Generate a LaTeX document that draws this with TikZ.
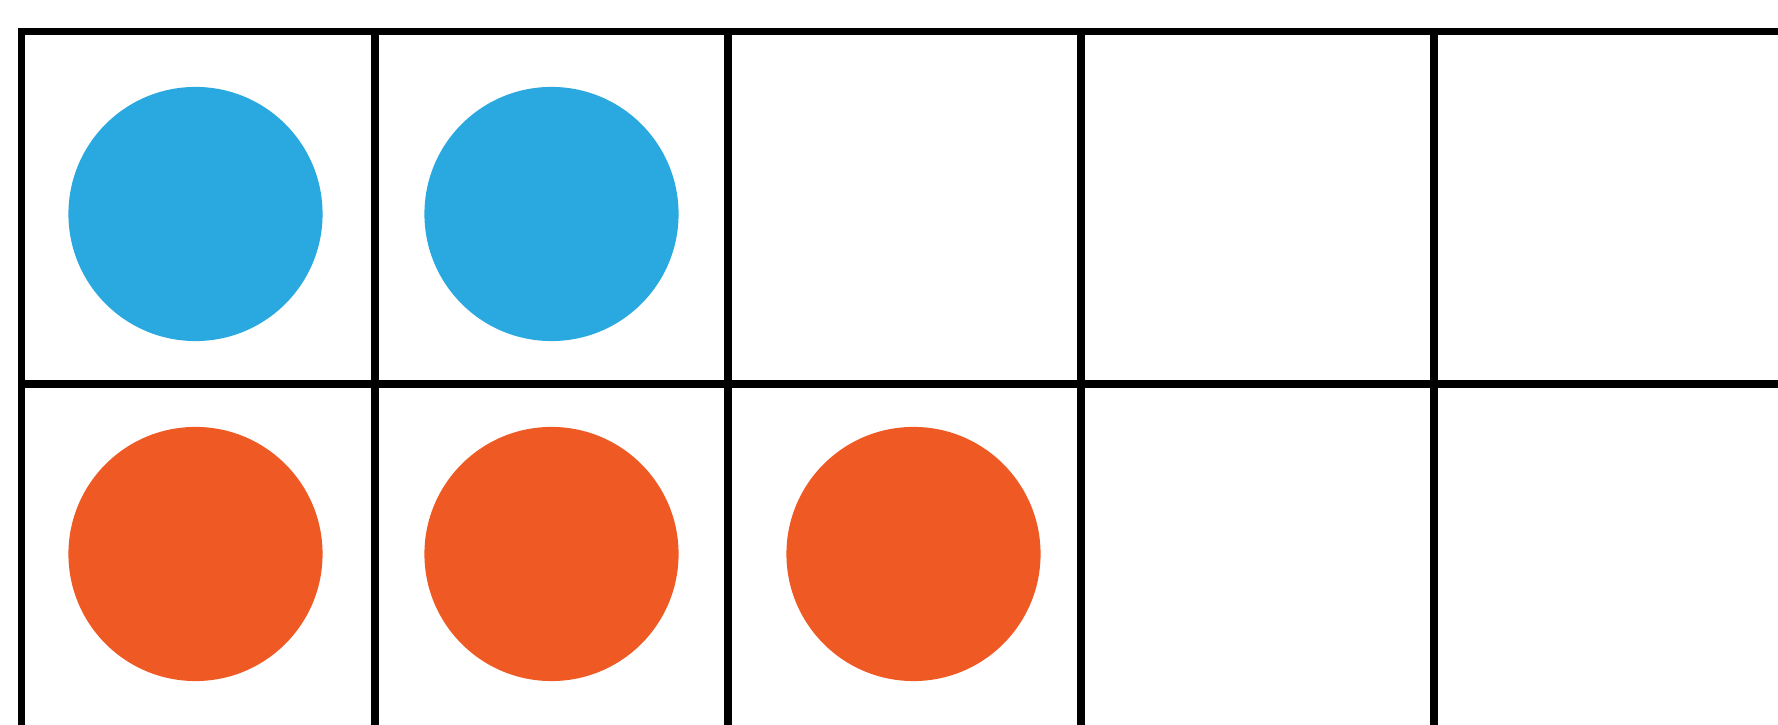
\documentclass[tikz,border=0pt]{standalone}
\usepackage{tikz}
\definecolor{dotblue}{HTML}{29A9E0}
\definecolor{dotorange}{HTML}{EF5A24}

\begin{document}
\begin{tikzpicture}[
  x=0.01cm, y=-0.01cm,
  cell/.style={draw, line width=0.07cm, minimum size=3.53cm, inner sep=0pt},
  counter/.style={circle, minimum size=2.54cm, inner sep=0pt}
]
\useasboundingbox (0,0) rectangle (1778,725);
\clip (0,0) rectangle (1778,725);
% frame cells
\foreach \r in {1,2}
  \foreach \c in {1,...,5}
    \node[cell] (cell-\r-\c) at ({22+353*(\c-0.5)}, {32+352*(\r-0.5)}) {};
% counters
\node[counter, fill=dotblue] (blue1) at ([shift={(-3,6)}]cell-1-1.center) {};
\node[counter, fill=dotblue] (blue2) at ([shift={(0,6)}]cell-1-2.center) {};
\node[counter, fill=dotorange] (orange1) at ([shift={(-3,-6)}]cell-2-1.center) {};
\node[counter, fill=dotorange] (orange2) at ([shift={(0,-6)}]cell-2-2.center) {};
\node[counter, fill=dotorange] (orange3) at ([shift={(9,-6)}]cell-2-3.center) {};
\end{tikzpicture}
\end{document}
